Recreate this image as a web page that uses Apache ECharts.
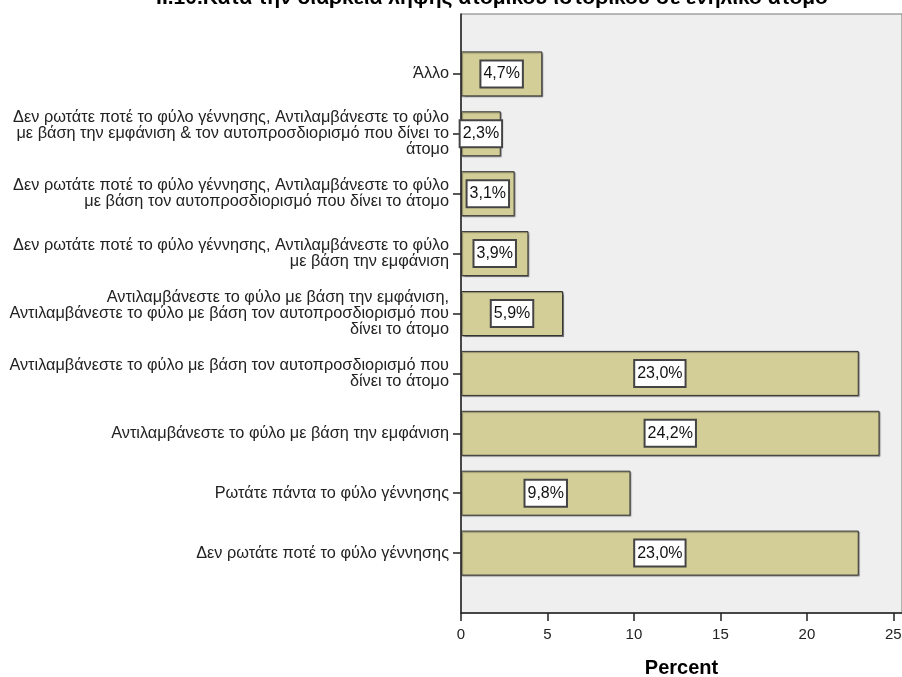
<!DOCTYPE html>
<html>
<head>
<meta charset="utf-8">
<script src="https://cdn.jsdelivr.net/npm/echarts@6/dist/echarts.min.js"></script>
<style>
  html, body { margin: 0; padding: 0; background: #ffffff; }
  #chart { width: 902px; height: 677px; }
</style>
</head>
<body>
<div id="chart"></div>
<script>
// Answer categories, listed top to bottom
const categories = [
  'Άλλο',
  'Δεν ρωτάτε ποτέ το φύλο γέννησης, Αντιλαμβάνεστε το φύλο\nμε βάση την εμφάνιση & τον αυτοπροσδιορισμό που δίνει το\nάτομο',
  'Δεν ρωτάτε ποτέ το φύλο γέννησης, Αντιλαμβάνεστε το φύλο\nμε βάση τον αυτοπροσδιορισμό που δίνει το άτομο',
  'Δεν ρωτάτε ποτέ το φύλο γέννησης, Αντιλαμβάνεστε το φύλο\nμε βάση την εμφάνιση',
  'Αντιλαμβάνεστε το φύλο με βάση την εμφάνιση,\nΑντιλαμβάνεστε το φύλο με βάση τον αυτοπροσδιορισμό που\nδίνει το άτομο',
  'Αντιλαμβάνεστε το φύλο με βάση τον αυτοπροσδιορισμό που\nδίνει το άτομο',
  'Αντιλαμβάνεστε το φύλο με βάση την εμφάνιση',
  'Ρωτάτε πάντα το φύλο γέννησης',
  'Δεν ρωτάτε ποτέ το φύλο γέννησης'
];

// Percent of respondents per category
const percents = [4.7, 2.3, 3.1, 3.9, 5.9, 23.0, 24.2, 9.8, 23.0];

// Percent axis ticks
const xTicks = [0, 5, 10, 15, 20, 25];

const titleText = 'ΙΙ.10.Κατά την διάρκεια λήψης ατομικού ιστορικού σε ενήλικο άτομο';
const axisName = 'Percent';

// Half-slot padding above and below the bars
const yCats = [''].concat(categories, ['']);
const yVals = ['-'].concat(percents, ['-']);

const FONT = 'Liberation Sans, Arial, sans-serif';

const chart = echarts.init(document.getElementById('chart'), null, { renderer: 'canvas' });

chart.setOption({
  animation: false,
  backgroundColor: '#ffffff',
  title: {
    text: titleText,
    left: 487,
    top: -17,
    textAlign: 'center',
    textStyle: { fontFamily: FONT, fontWeight: 'bold', fontSize: 21, color: '#000' }
  },
  grid: {
    left: 461, right: 0, top: 14, bottom: 64,
    outerBoundsMode: 'none',
    containLabel: false,
    show: true,
    backgroundColor: '#efefef',
    borderColor: '#777',
    borderWidth: 1
  },
  xAxis: {
    type: 'value',
    min: 0,
    max: 25.5,
    interval: 5,
    name: axisName,
    nameLocation: 'middle',
    nameGap: 45,
    nameTextStyle: { fontFamily: FONT, fontWeight: 'bold', fontSize: 20, color: '#000' },
    axisLine: { show: true, lineStyle: { color: '#222', width: 1.5 } },
    axisTick: { show: true, length: 8, customValues: xTicks, lineStyle: { color: '#222', width: 1.5 } },
    axisLabel: { customValues: xTicks, fontFamily: FONT, fontSize: 15, color: '#222', margin: 14 },
    splitLine: { show: false }
  },
  yAxis: {
    type: 'category',
    data: yCats,
    inverse: true,
    boundaryGap: false,
    axisLine: { show: true, lineStyle: { color: '#222', width: 1.5 } },
    axisTick: {
      show: true,
      length: 8,
      interval: (i) => i > 0 && i < yCats.length - 1,
      lineStyle: { color: '#222', width: 1.5 }
    },
    axisLabel: {
      interval: 0,
      fontFamily: FONT,
      fontSize: 16.3,
      lineHeight: 16,
      color: '#222',
      margin: 12,
      align: 'right'
    },
    splitLine: { show: false }
  },
  series: [{
    type: 'bar',
    data: yVals,
    barWidth: 45,
    itemStyle: {
      color: '#d3ce97',
      borderColor: '#333',
      borderWidth: 1,
      shadowColor: 'rgba(0,0,0,0.35)',
      shadowOffsetX: 1,
      shadowOffsetY: 1,
      shadowBlur: 1
    },
    label: {
      show: true,
      position: 'inside',
      formatter: (p) => p.value.toFixed(1).replace('.', ',') + '%',
      fontFamily: FONT,
      fontSize: 16,
      lineHeight: 18,
      color: '#111',
      backgroundColor: '#ffffff',
      borderColor: '#444',
      borderWidth: 2,
      padding: [4, 2, 3, 2]
    }
  }]
});
</script>
</body>
</html>
